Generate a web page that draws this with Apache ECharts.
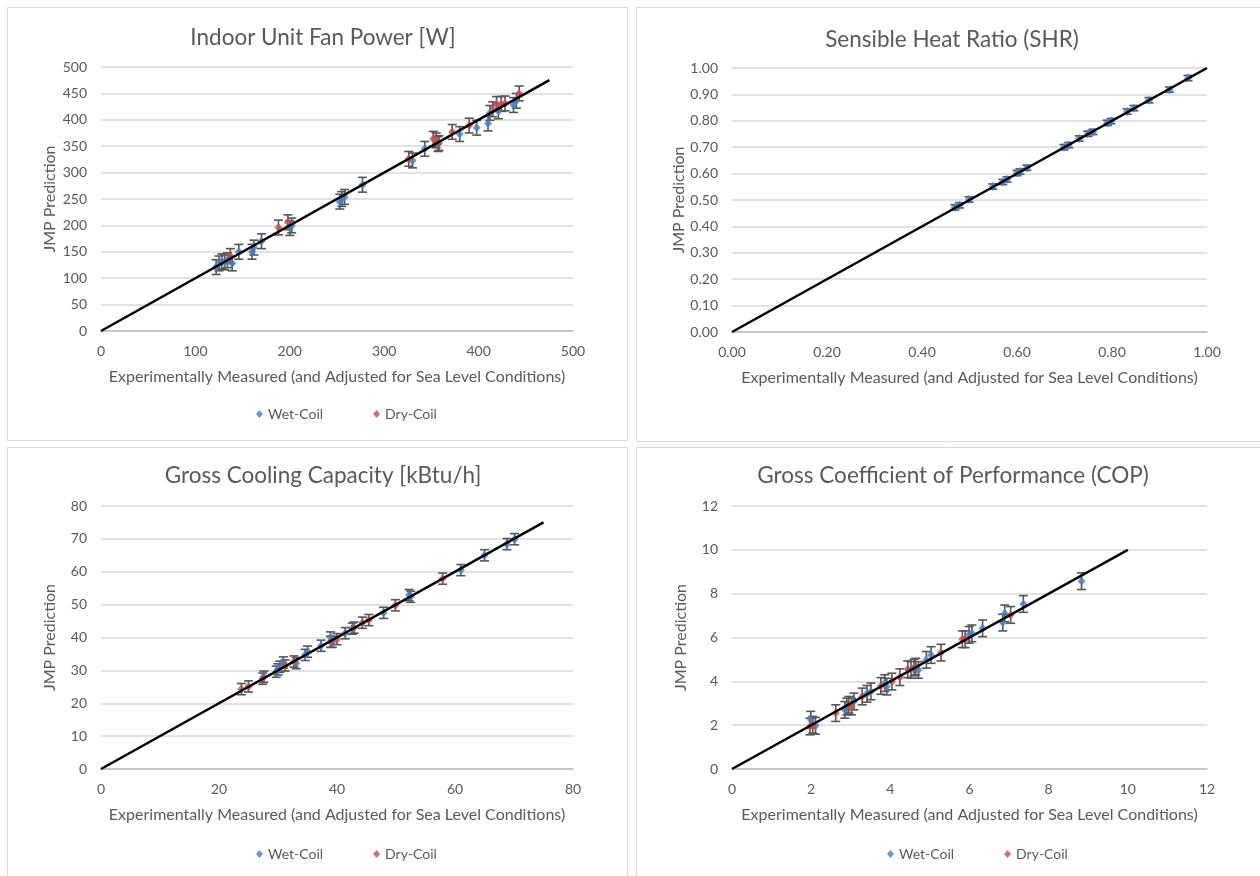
<!DOCTYPE html>
<html>
<head>
<meta charset="utf-8">
<title>Model validation</title>
<script src="https://cdn.jsdelivr.net/npm/echarts@6/dist/echarts.min.js"></script>
<style>
  html, body { margin: 0; padding: 0; background: #ffffff; }
  #chart { width: 1260px; height: 876px; }
</style>
</head>
<body>
<div id="chart"></div>
<script>
// ---- Indoor unit fan power [W]: [measured, predicted]
const fanWet = [
  [122, 121], [125, 128], [128, 132], [131, 130], [134, 134], [139, 128],
  [146, 150], [160, 150], [162, 158], [170, 170], [200, 195], [202, 200],
  [253, 245], [255, 250], [258, 254], [277, 277], [330, 323], [343, 345],
  [357, 354], [380, 373], [398, 385], [410, 393], [412, 413], [421, 416],
  [437, 428], [440, 436]
];
const fanDry = [
  [137, 142], [188, 196], [198, 206], [326, 326], [352, 364], [355, 361],
  [358, 356], [372, 377], [390, 389], [415, 420], [419, 430], [424, 430],
  [428, 431], [443, 450]
];
const fanErr = 14;

// ---- Sensible heat ratio
const shrWet = [
  [0.469, 0.472], [0.479, 0.480], [0.499, 0.502], [0.549, 0.551],
  [0.570, 0.568], [0.579, 0.578], [0.600, 0.602], [0.606, 0.608],
  [0.621, 0.622], [0.699, 0.700], [0.709, 0.708], [0.731, 0.733],
  [0.749, 0.751], [0.760, 0.758], [0.790, 0.792], [0.798, 0.799],
  [0.832, 0.835], [0.846, 0.848], [0.878, 0.878], [0.921, 0.918],
  [0.960, 0.962]
];
const shrErr = 0.01;

// ---- Gross cooling capacity [kBtu/h]
const capWet = [
  [27.6, 28.1], [29.7, 29.6], [30.0, 30.3], [30.3, 31.1], [30.9, 32.4],
  [33.1, 32.2], [34.6, 34.7], [35.0, 35.7], [37.3, 37.5], [38.9, 40.0],
  [39.2, 38.7], [41.4, 41.3], [42.9, 43.0], [47.9, 47.5], [52.2, 52.9],
  [52.5, 52.4], [61.0, 60.5], [65.0, 65.0], [68.8, 68.4], [70.1, 69.9]
];
const capDry = [
  [23.8, 24.3], [25.0, 25.1], [27.4, 27.5], [31.2, 31.5], [32.7, 32.7],
  [38.9, 38.7], [40.0, 39.5], [42.6, 42.7], [44.3, 44.5], [45.4, 45.3],
  [49.9, 49.8], [57.9, 57.9]
];
const capErr = 1.7;

// ---- Gross coefficient of performance
const copWet = [
  [1.99, 2.25], [2.11, 1.97], [2.85, 2.70], [2.90, 2.85], [3.08, 3.08],
  [3.41, 3.43], [3.51, 3.54], [3.86, 3.92], [3.91, 3.76], [4.52, 4.52],
  [4.60, 4.63], [4.71, 4.52], [4.91, 4.98], [5.03, 5.20], [5.99, 6.12],
  [6.06, 6.19], [6.33, 6.42], [6.84, 6.68], [6.89, 7.10], [7.36, 7.53],
  [8.83, 8.57]
];
const copDry = [
  [1.97, 1.94], [2.04, 2.02], [2.62, 2.55], [2.95, 2.93], [3.02, 2.85],
  [3.29, 3.31], [3.76, 3.79], [4.04, 3.99], [4.24, 4.19], [4.44, 4.55],
  [4.64, 4.67], [5.28, 5.31], [5.82, 5.92], [5.89, 5.92], [7.04, 7.03]
];
const copErr = 0.38;

// ---- Axis ticks and 1:1 reference lines
const panelTitles = [
  'Indoor Unit Fan Power [W]',
  'Sensible Heat Ratio (SHR)',
  'Gross Cooling Capacity [kBtu/h]',
  'Gross Coefficient of Performance (COP)'
];
const axisMax = [500, 1, 80, 12];
const xInterval = [100, 0.2, 20, 2];
const yInterval = [50, 0.1, 10, 2];
const labelDecimals = [0, 2, 0, 0];
const unityEnd = [475, 1, 75, 10];

const xName = 'Experimentally Measured (and Adjusted for Sea Level Conditions)';
const yName = 'JMP Prediction';

const FONT = 'Lato, "Open Sans", sans-serif';
const TEXT = '#595959';
const WET = '#4a7ebf';
const DRY = '#c0504d';
const BAR = '#555555';

// plot-area rectangles for the four panels
const grids = [
  { left: 101, top: 67, width: 472, height: 264 },
  { left: 732, top: 68, width: 475, height: 264 },
  { left: 101, top: 506, width: 472, height: 263 },
  { left: 732, top: 506, width: 475, height: 263 }
];
const titlePos = [[318, 21], [947, 23], [318, 459], [948, 459]];

function withErr(points, err) {
  return points.map(p => [p[0], p[1], err]);
}

function errorBars(gridIndex, points, err, color) {
  return {
    type: 'custom',
    xAxisIndex: gridIndex,
    yAxisIndex: gridIndex,
    silent: true,
    z: 2,
    data: withErr(points, err),
    renderItem: function (params, api) {
      const x = api.value(0), y = api.value(1), e = api.value(2);
      const top = api.coord([x, y + e]);
      const bot = api.coord([x, y - e]);
      const hw = 4.5;
      const style = { stroke: color, lineWidth: 1.6 };
      return {
        type: 'group',
        children: [
          { type: 'line', shape: { x1: top[0], y1: top[1], x2: bot[0], y2: bot[1] }, style: style },
          { type: 'line', shape: { x1: top[0] - hw, y1: top[1], x2: top[0] + hw, y2: top[1] }, style: style },
          { type: 'line', shape: { x1: bot[0] - hw, y1: bot[1], x2: bot[0] + hw, y2: bot[1] }, style: style }
        ]
      };
    }
  };
}

function points(gridIndex, name, data, color) {
  return {
    type: 'scatter',
    name: name,
    xAxisIndex: gridIndex,
    yAxisIndex: gridIndex,
    symbol: 'diamond',
    symbolSize: [8, 9],
    z: 3,
    itemStyle: { color: color },
    data: data
  };
}

function unityLine(gridIndex) {
  return {
    type: 'line',
    xAxisIndex: gridIndex,
    yAxisIndex: gridIndex,
    showSymbol: false,
    silent: true,
    z: 4,
    lineStyle: { color: '#000000', width: 2.5 },
    data: [[0, 0], [unityEnd[gridIndex], unityEnd[gridIndex]]]
  };
}

const xAxes = [], yAxes = [];
for (let i = 0; i < 4; i++) {
  const dec = labelDecimals[i];
  xAxes.push({
    type: 'value', gridIndex: i, min: 0, max: axisMax[i], interval: xInterval[i],
    name: xName, nameLocation: 'middle', nameGap: 38,
    nameTextStyle: { color: TEXT, fontFamily: FONT, fontSize: 16 },
    axisLine: { show: true, lineStyle: { color: '#bfbfbf', width: 1.5 } },
    axisTick: { show: false },
    axisLabel: { color: TEXT, fontFamily: FONT, fontSize: 14, margin: 13,
      formatter: v => v.toFixed(dec) },
    splitLine: { show: false }
  });
  yAxes.push({
    type: 'value', gridIndex: i, min: 0, max: axisMax[i], interval: yInterval[i],
    name: yName, nameLocation: 'middle', nameGap: 43, nameRotate: 90,
    nameTextStyle: { color: TEXT, fontFamily: FONT, fontSize: 16 },
    axisLine: { show: false },
    axisTick: { show: false },
    axisLabel: { color: TEXT, fontFamily: FONT, fontSize: 14, margin: 14,
      formatter: v => v.toFixed(dec) },
    splitLine: { show: true, lineStyle: { color: '#d9d9d9', width: 1.5 } }
  });
}

const series = [
  errorBars(0, fanWet, fanErr, BAR),
  errorBars(0, fanDry, fanErr, BAR),
  points(0, 'Wet-Coil', fanWet, WET),
  points(0, 'Dry-Coil', fanDry, DRY),
  unityLine(0),

  errorBars(1, shrWet, shrErr, BAR),
  points(1, 'Wet-Coil', shrWet, WET),
  unityLine(1),

  errorBars(2, capWet, capErr, BAR),
  errorBars(2, capDry, capErr, BAR),
  points(2, 'Wet-Coil', capWet, WET),
  points(2, 'Dry-Coil', capDry, DRY),
  unityLine(2),

  errorBars(3, copWet, copErr, BAR),
  errorBars(3, copDry, copErr, BAR),
  points(3, 'Wet-Coil', copWet, WET),
  points(3, 'Dry-Coil', copDry, DRY),
  unityLine(3)
];

function legendAt(left, top) {
  return {
    left: left, top: top, orient: 'horizontal',
    data: [
      { name: 'Wet-Coil', itemStyle: { color: WET } },
      { name: 'Dry-Coil', itemStyle: { color: DRY } }
    ],
    icon: 'diamond', itemWidth: 7, itemHeight: 8, itemGap: 50,
    selectedMode: false,
    textStyle: { color: TEXT, fontFamily: FONT, fontSize: 14 }
  };
}

// panel frames
const frames = [
  { x: 7.5, y: 7.5, w: 620, h: 433 },
  { x: 636.5, y: 7.5, w: 630, h: 434 },
  { x: 7.5, y: 447.5, w: 620, h: 440 },
  { x: 636.5, y: 447.5, w: 630, h: 440 }
].map(f => ({
  type: 'rect', silent: true,
  shape: { x: f.x, y: f.y, width: f.w, height: f.h },
  style: { fill: '#ffffff', stroke: '#d9d9d9', lineWidth: 1 },
  z: -10
}));

const chart = echarts.init(document.getElementById('chart'), null, { renderer: 'canvas' });
chart.setOption({
  backgroundColor: '#ffffff',
  animation: false,
  title: panelTitles.map((t, i) => ({
    text: t, left: titlePos[i][0], top: titlePos[i][1], textAlign: 'center',
    textStyle: { color: TEXT, fontFamily: FONT, fontSize: 22.5, fontWeight: 'normal' }
  })),
  legend: [legendAt(251, 402), legendAt(251, 842), legendAt(882, 842)],
  graphic: frames,
  grid: grids,
  xAxis: xAxes,
  yAxis: yAxes,
  series: series
});
</script>
</body>
</html>
